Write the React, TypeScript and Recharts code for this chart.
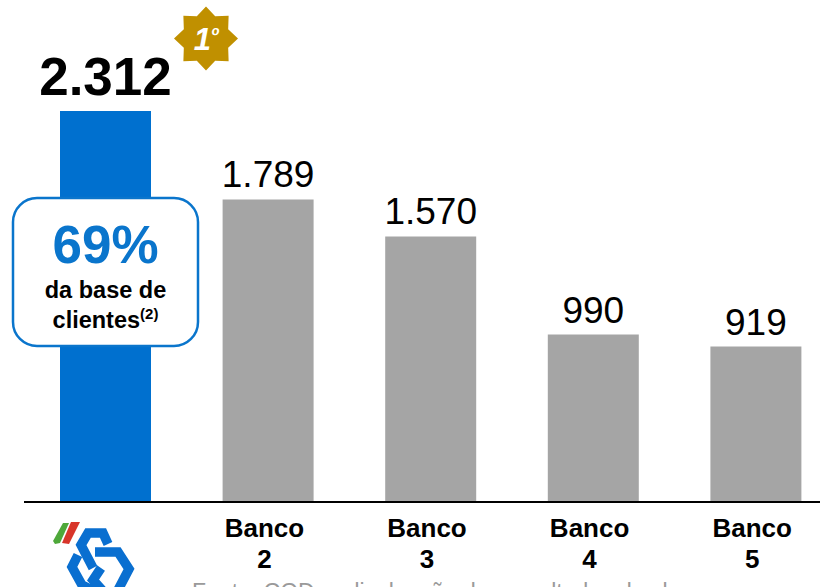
import React from "react";
import { BarChart, Bar, XAxis, YAxis, Cell, LabelList } from "recharts";

const categories = ["Caixa", "Banco 2", "Banco 3", "Banco 4", "Banco 5"];
const clients = [2312, 1789, 1570, 990, 919];
const valueLabels = ["2.312", "1.789", "1.570", "990", "919"];
const barColors = ["#0070CF", "#A5A5A5", "#A5A5A5", "#A5A5A5", "#A5A5A5"];
const rows = categories.map((name, i) => ({ name, value: clients[i], label: valueLabels[i] }));

const FONT = "'Liberation Sans', Arial, sans-serif";

const Tick = (props: any) => {
  const { x, index, payload } = props;
  if (index === 0) return null;
  const [a, b] = String(payload.value).split(" ");
  return (
    <text textAnchor="middle" fontFamily={FONT} fontWeight={700} fontSize={26} fill="#000">
      <tspan x={x - 3.5} y={537}>{a}</tspan>
      <tspan x={x - 3.5} y={568}>{b}</tspan>
    </text>
  );
};

const ValueLabel = (props: any) => {
  const { x, y, width, index } = props;
  const first = index === 0;
  return (
    <text
      x={x + width / 2}
      y={first ? y - 16 : y - 12}
      textAnchor="middle"
      fontFamily={FONT}
      fontWeight={first ? 700 : 400}
      fontSize={first ? 53 : 37}
      fill="#000"
    >
      {valueLabels[index]}
    </text>
  );
};

const starPoints = (() => {
  const pts: string[] = [];
  for (let i = 0; i < 16; i++) {
    const r = i % 2 === 0 ? 32 : 24;
    const t = (i * Math.PI) / 8;
    pts.push(`${206 + r * Math.cos(t)},${38.5 + r * Math.sin(t)}`);
  }
  return pts.join(" ");
})();

export default function App() {
  return (
    <div style={{ position: "fixed", left: 0, top: 0, width: 820, height: 587, overflow: "hidden", background: "#fff" }}>
      <BarChart
        width={840}
        height={587}
        data={rows}
        barCategoryGap={0}
        margin={{ top: 111, right: 3, bottom: 0, left: 24 }}
      >
        <YAxis hide domain={[0, 2312]} />
        <XAxis
          dataKey="name"
          interval={0}
          stroke="#000"
          tickLine={false}
          tick={<Tick />}
          axisLine={{ stroke: "#000", strokeWidth: 2 }}
          height={85}
        />
        <Bar dataKey="value" barSize={91} isAnimationActive={false}>
          {rows.map((r, i) => (
            <Cell key={r.name} fill={barColors[i]} />
          ))}
          <LabelList dataKey="label" content={<ValueLabel />} />
        </Bar>
      </BarChart>

      <svg width={820} height={587} style={{ position: "absolute", left: 0, top: 0 }} fontFamily={FONT}>
        <polygon points={starPoints} fill="#C09000" />
        <text x={206} y={50} textAnchor="middle" fontSize={31} fontStyle="italic" fontWeight={700} fill="#fff">
          1<tspan fontSize={20} dy={-8}>º</tspan>
        </text>

        <rect x={13} y={198} width={185} height={148} rx={24} fill="#fff" stroke="#0A75CC" strokeWidth={2.5} />
        <text x={105.5} y={263} textAnchor="middle" fontSize={53} fontWeight={700} fill="#0A75CC">69%</text>
        <text x={105.5} y={298} textAnchor="middle" fontSize={23.5} fontWeight={700} fill="#000">da base de</text>
        <text x={105.5} y={328} textAnchor="middle" fontSize={23.5} fontWeight={700} fill="#000">
          clientes<tspan fontSize={15} dy={-9}>(2)</tspan>
        </text>

        <g>
          <polygon points="53,541 63,523 69,523 60,543 55,544" fill="#4EA83A" />
          <polygon points="62,543 71,522 80,522 69,544" fill="#D8352A" />
          <g fill="none" stroke="#0A6FD0" strokeWidth={9.5} strokeLinejoin="miter">
            <polyline points="108,544 103,533 88,533 81,545 93,568" />
            <polyline points="95,552 118,552 129,569 118,590" />
            <polyline points="78,555 72,567 82,585 92,590" />
            <polyline points="101,568 93,580 102,590" />
          </g>
        </g>

        <text x={192} y={600} fontSize={23} fill="#9A9A9A">Fonte: CGD, a divulgação dos resultados dos bancos</text>
      </svg>
    </div>
  );
}
